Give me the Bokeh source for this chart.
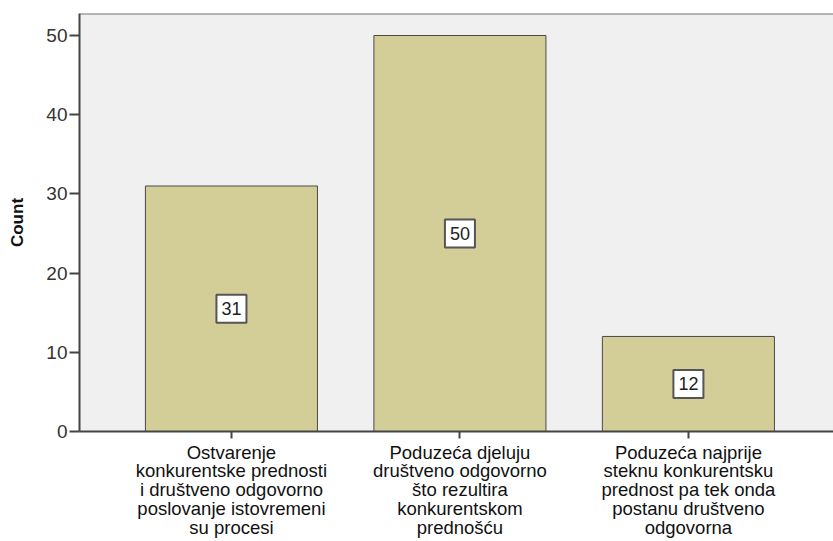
from bokeh.plotting import figure
from bokeh.models import ColumnDataSource, Range1d, FixedTicker, Span
from bokeh.core.properties import value
from bokeh.embed import file_html
from bokeh.resources import INLINE

categories = [
    "Ostvarenje\nkonkurentske prednosti\ni društveno odgovorno\nposlovanje istovremeni\nsu procesi",
    "Poduzeća djeluju\ndruštveno odgovorno\nšto rezultira\nkonkurentskom\nprednošću",
    "Poduzeća najprije\nsteknu konkurentsku\nprednost pa tek onda\npostanu društveno\nodgovorna",
]
counts = [31, 50, 12]
y_ticks = [0, 10, 20, 30, 40, 50]

xs = [1, 2, 3]
src = ColumnDataSource(dict(
    x=xs,
    top=counts,
    mid=[c / 2 for c in counts],
    lab=[str(c) for c in counts],
))

p = figure(width=833, height=541, output_backend="svg", toolbar_location=None,
           x_range=Range1d(0.335, 3.635), y_range=Range1d(0, 52.78),
           min_border_left=79, min_border_top=13, min_border_right=0, min_border_bottom=110)

p.background_fill_color = "#f0f0f0"
p.border_fill_color = "white"
p.outline_line_color = None
p.grid.visible = False

p.vbar(x="x", top="top", width=0.753, source=src, fill_color="#d3ce97",
       line_color="#4a4a4a", line_width=1)

p.rect(x="x", y="mid", width=30, height=28, width_units="screen", height_units="screen",
       source=src, fill_color="white", line_color="#555555", line_width=2)
p.text(x="x", y="mid", text="lab", source=src, text_align="center", text_baseline="middle",
       text_font=value("Liberation Sans"), text_font_size="18px", text_color="#222222")

p.add_layout(Span(location=52.78, dimension="width", line_color="#777777", line_width=2))

ya = p.yaxis[0]
ya.ticker = FixedTicker(ticks=y_ticks)
ya.axis_label = "Count"
ya.axis_label_text_font = "Liberation Sans"
ya.axis_label_text_font_style = "bold"
ya.axis_label_text_font_size = "17px"
ya.axis_label_text_color = "#111111"
ya.axis_label_standoff = 16
ya.major_label_text_font = "Liberation Sans"
ya.major_label_text_font_size = "19px"
ya.major_label_text_color = "#333333"
ya.axis_line_color = "#444444"
ya.axis_line_width = 2
ya.major_tick_line_color = "#444444"
ya.major_tick_line_width = 2
ya.major_tick_out = 10
ya.major_tick_in = 0
ya.minor_tick_line_color = None
ya.major_label_standoff = 2

xa = p.xaxis[0]
xa.ticker = FixedTicker(ticks=xs)
xa.major_label_overrides = {x: c for x, c in zip(xs, categories)}
xa.major_label_text_font = "Liberation Sans"
xa.major_label_text_font_size = "18.5px"
xa.major_label_text_color = "#111111"
xa.major_label_text_line_height = 0.9
xa.major_label_text_align = "center"
xa.axis_line_color = "#444444"
xa.axis_line_width = 2
xa.major_tick_line_color = "#444444"
xa.major_tick_line_width = 2
xa.major_tick_out = 7
xa.major_tick_in = 0
xa.minor_tick_line_color = None
xa.major_label_standoff = 3

open("out.html", "w").write(file_html(p, INLINE))
